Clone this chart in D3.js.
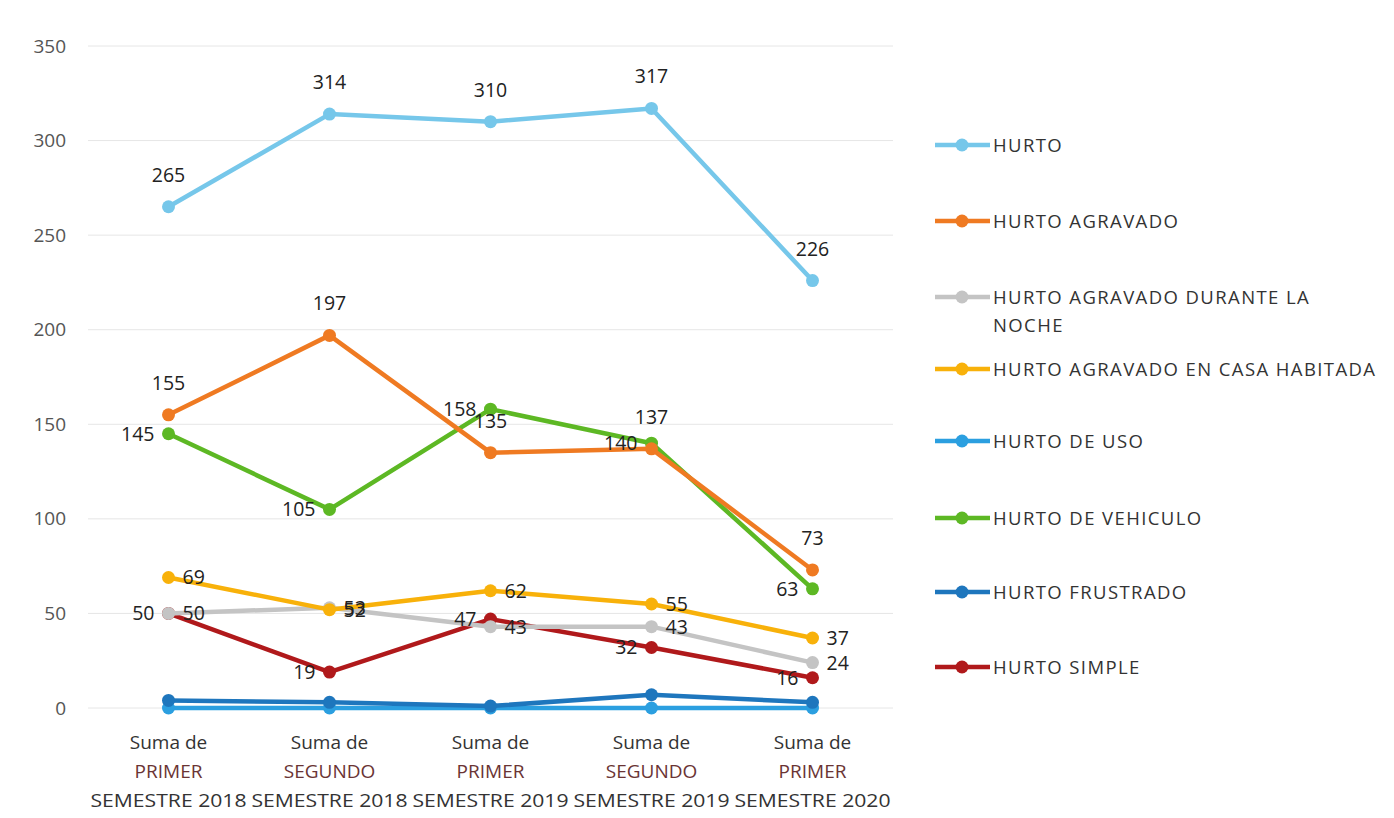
<!DOCTYPE html>
<html>
<head>
<meta charset="utf-8">
<script src="https://cdn.jsdelivr.net/npm/d3@7"></script>
<style>
  body { margin: 0; background: #fff; }
  svg { font-family: "Open Sans", sans-serif; }
</style>
</head>
<body>
<div id="chart"></div>
<script>
// categories (x axis), three lines each
const categories = ["P2018", "S2018", "P2019", "S2019", "P2020"];
const catLines = [
    ["Suma de", "PRIMER", "SEMESTRE 2018"],
    ["Suma de", "SEGUNDO", "SEMESTRE 2018"],
    ["Suma de", "PRIMER", "SEMESTRE 2019"],
    ["Suma de", "SEGUNDO", "SEMESTRE 2019"],
    ["Suma de", "PRIMER", "SEMESTRE 2020"]
];
const yTicks = [0, 50, 100, 150, 200, 250, 300, 350];

const seriesNames = [
    "HURTO", "HURTO AGRAVADO", "HURTO AGRAVADO DURANTE LA NOCHE",
    "HURTO AGRAVADO EN CASA HABITADA", "HURTO DE USO", "HURTO DE VEHICULO",
    "HURTO FRUSTRADO", "HURTO SIMPLE"
];
const hurto      = [265, 314, 310, 317, 226];
const agravado   = [155, 197, 135, 137, 73];
const noche      = [50, 53, 43, 43, 24];
const casa       = [69, 52, 62, 55, 37];
const deUso      = [0, 0, 0, 0, 0];
const vehiculo   = [145, 105, 158, 140, 63];
const frustrado  = [4, 3, 1, 7, 3];
const simple     = [50, 19, 47, 32, 16];

const colors = ["#76c7ea", "#ef7a22", "#c4c4c4", "#f8b10a", "#2b9fe0", "#5db824", "#1e76bd", "#b0191b"];
// where the value label goes: "above", "left", "right", or null for no labels
const labelPos = ["above", "above", "right", "right", null, "left", null, "left"];

const series = [hurto, agravado, noche, casa, deUso, vehiculo, frustrado, simple]
    .map((v, i) => ({ name: seriesNames[i], values: v, color: colors[i], pos: labelPos[i] }));

const W = 1394, H = 818;
const margin = { left: 88, right: 501, top: 46, bottom: 110 };

const svg = d3.select("#chart").append("svg")
    .attr("width", W).attr("height", H);

const x = d3.scalePoint()
    .domain(categories)
    .range([margin.left, W - margin.right])
    .padding(0.5);

const y = d3.scaleLinear()
    .domain([0, 350])
    .range([H - margin.bottom, margin.top]);

// gridlines
svg.append("g").selectAll("line")
    .data(yTicks)
    .join("line")
    .attr("x1", margin.left).attr("x2", W - margin.right)
    .attr("y1", d => y(d)).attr("y2", d => y(d))
    .attr("stroke", "#e6e6e6").attr("stroke-width", 1);

// y axis labels
const yAxis = svg.append("g")
    .attr("transform", `translate(${margin.left - 22},0)`)
    .call(d3.axisLeft(y).tickValues(yTicks).tickSize(0).tickPadding(0));
yAxis.select(".domain").remove();
yAxis.selectAll("text")
    .attr("font-size", 19).attr("fill", "#555").attr("font-family", "Open Sans, sans-serif");

// x axis labels
const xg = svg.append("g");
categories.forEach((c, i) => {
    const t = xg.append("text")
        .attr("x", x(c)).attr("y", H - margin.bottom + 41)
        .attr("text-anchor", "middle")
        .attr("font-size", 19).attr("fill", "#333");
    catLines[i].forEach((ln, j) => {
        const sp = t.append("tspan")
            .attr("x", x(c))
            .attr("dy", j == 0 ? 0 : 29)
            .attr("fill", j == 1 ? "#6a3434" : "#333")
            .text(ln);
        if (j == 2) sp.attr("textLength", 156).attr("lengthAdjust", "spacingAndGlyphs");
        else sp.attr("transform", null);
    });
});

const line = d3.line()
    .x((d, i) => x(categories[i]))
    .y(d => y(d));

// draw series, low ones first so HURTO lines stay on top like the original
const drawOrder = [4, 6, 7, 2, 3, 5, 1, 0];
drawOrder.forEach(k => {
    const s = series[k];
    const g = svg.append("g");
    g.append("path")
        .datum(s.values)
        .attr("d", line)
        .attr("fill", "none")
        .attr("stroke", s.color)
        .attr("stroke-width", 4.5)
        .attr("stroke-linejoin", "round");
    g.selectAll("circle")
        .data(s.values)
        .join("circle")
        .attr("cx", (d, i) => x(categories[i]))
        .attr("cy", d => y(d))
        .attr("r", 6.5)
        .attr("fill", s.color);
});

// value labels
series.forEach(s => {
    if (!s.pos) return;
    svg.append("g").selectAll("text")
        .data(s.values)
        .join("text")
        .attr("x", (d, i) => {
            const cx = x(categories[i]);
            if (s.pos == "left") return cx - 14;
            if (s.pos == "right") return cx + 14;
            return cx;
        })
        .attr("y", d => s.pos == "above" ? y(d) - 25 : y(d) + 7)
        .attr("text-anchor", s.pos == "left" ? "end" : (s.pos == "right" ? "start" : "middle"))
        .attr("font-size", 19.5)
        .attr("fill", "#222")
        .text(d => d);
});

// legend
const legRows = [145, 221, 297, 369, 441, 518, 592, 667];
legRows[1] = 221;
const leg = svg.append("g");
series.forEach((s, i) => {
    const ly = i == 1 ? 221 : legRows[i];
    leg.append("line")
        .attr("x1", 935).attr("x2", 990)
        .attr("y1", ly).attr("y2", ly)
        .attr("stroke", s.color).attr("stroke-width", 4.5);
    leg.append("circle")
        .attr("cx", 962).attr("cy", ly).attr("r", 6.5)
        .attr("fill", s.color);
    const t = leg.append("text")
        .attr("x", 993).attr("y", ly + 7)
        .attr("font-size", 18.5).attr("fill", "#333")
        .attr("letter-spacing", 1.4);
    if (s.name == "HURTO AGRAVADO DURANTE LA NOCHE") {
        t.append("tspan").attr("x", 993).text("HURTO AGRAVADO DURANTE LA");
        t.append("tspan").attr("x", 993).attr("dy", 28).text("NOCHE");
    } else {
        t.text(s.name);
    }
});
</script>
</body>
</html>
